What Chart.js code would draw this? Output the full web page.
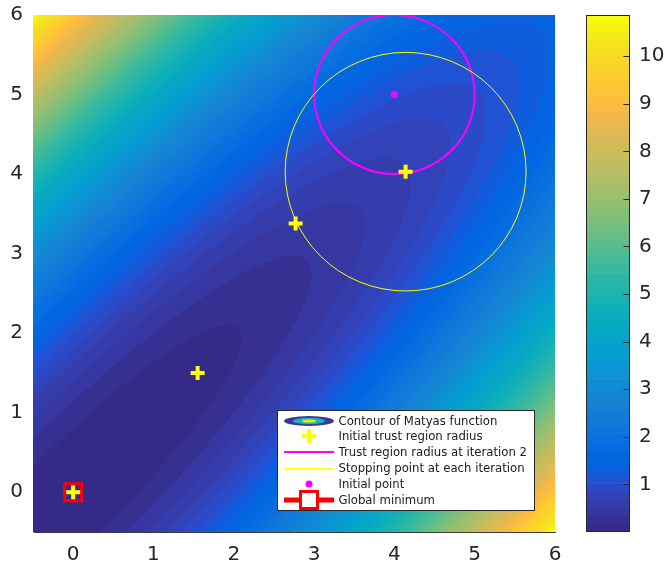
<!DOCTYPE html>
<html><head><meta charset="utf-8">
<script src="https://cdn.jsdelivr.net/npm/chart.js@4.4.0/dist/chart.umd.min.js"></script>
<style>
html,body{margin:0;padding:0;background:#fff;}
#wrap{position:relative;width:666px;height:567px;overflow:hidden;}
#main{position:absolute;left:0;top:0;}
#cbar{position:absolute;left:580px;top:0;}
</style></head><body>
<div id="wrap">
<canvas id="main" width="580" height="567"></canvas>
<canvas id="cbar" width="86" height="567"></canvas>
</div>
<script>
// ---------------- data ----------------
const xTicks = [0, 1, 2, 3, 4, 5, 6];
const yTicks = [0, 1, 2, 3, 4, 5, 6];
const colorbarTicks = [1, 2, 3, 4, 5, 6, 7, 8, 9, 10];
const xLimits = [-0.5, 6];
const yLimits = [-0.5, 6];
const colorLimits = [0, 10.865];
const contourLevelCount = 64;
// Matyas function f(x,y) = a*(x^2+y^2) - b*x*y
const matyasA = 0.26;
const matyasB = 0.48;
// stopping points (yellow plus)
const stopX = [0, 1.55, 2.77, 4.14];
const stopY = [0, 1.5, 3.38, 4.03];
// initial point
const initX = [4];
const initY = [5];
// global minimum
const minX = [0];
const minY = [0];
// trust-region circles
const circleCX = [4, 4.14];
const circleCY = [5, 4.03];
const circleR = [1, 1.5];
const circleColors = ['#ff00ff', '#ffff00'];
const circleWidths = [2, 1];
const legendLabels = [
  'Contour of Matyas function',
  'Initial trust region radius',
  'Trust region radius at iteration 2',
  'Stopping point at each iteration',
  'Initial point',
  'Global minimum'
];

// parula colormap (64)
const parula = [
[0.2081,0.1663,0.5292],[0.2116,0.1898,0.5777],[0.2123,0.2138,0.6270],[0.2081,0.2386,0.6771],
[0.1959,0.2645,0.7279],[0.1707,0.2919,0.7792],[0.1253,0.3242,0.8303],[0.0591,0.3598,0.8683],
[0.0117,0.3875,0.8820],[0.0060,0.4086,0.8828],[0.0165,0.4266,0.8786],[0.0329,0.4430,0.8720],
[0.0498,0.4586,0.8641],[0.0629,0.4737,0.8554],[0.0723,0.4887,0.8467],[0.0779,0.5040,0.8384],
[0.0793,0.5200,0.8312],[0.0749,0.5375,0.8263],[0.0641,0.5570,0.8240],[0.0488,0.5772,0.8228],
[0.0343,0.5966,0.8199],[0.0265,0.6137,0.8135],[0.0239,0.6287,0.8038],[0.0231,0.6418,0.7913],
[0.0228,0.6535,0.7768],[0.0267,0.6642,0.7607],[0.0384,0.6743,0.7436],[0.0590,0.6838,0.7254],
[0.0843,0.6928,0.7062],[0.1133,0.7015,0.6859],[0.1453,0.7098,0.6646],[0.1801,0.7177,0.6424],
[0.2178,0.7250,0.6193],[0.2586,0.7317,0.5954],[0.3022,0.7376,0.5712],[0.3482,0.7424,0.5473],
[0.3953,0.7459,0.5244],[0.4420,0.7481,0.5033],[0.4871,0.7491,0.4840],[0.5300,0.7491,0.4661],
[0.5709,0.7485,0.4494],[0.6099,0.7473,0.4337],[0.6473,0.7456,0.4188],[0.6834,0.7435,0.4044],
[0.7184,0.7411,0.3905],[0.7525,0.7384,0.3768],[0.7858,0.7356,0.3633],[0.8185,0.7327,0.3498],
[0.8507,0.7299,0.3360],[0.8824,0.7274,0.3217],[0.9139,0.7258,0.3063],[0.9450,0.7261,0.2886],
[0.9739,0.7314,0.2666],[0.9938,0.7455,0.2403],[0.9990,0.7653,0.2164],[0.9955,0.7861,0.1967],
[0.9880,0.8066,0.1794],[0.9789,0.8271,0.1633],[0.9697,0.8481,0.1475],[0.9626,0.8705,0.1309],
[0.9589,0.8949,0.1132],[0.9598,0.9218,0.0948],[0.9661,0.9514,0.0755],[0.9763,0.9831,0.0538]
].map(c => c.map(v => Math.round(v * 255)));
const rgb = c => `rgb(${c[0]},${c[1]},${c[2]})`;

const FONT = "'DejaVu Sans', sans-serif";
const TXT = '#262626';

function matyas(x, y) { return matyasA * (x * x + y * y) - matyasB * x * y; }

// ---------------- plugins ----------------
const contourPlugin = {
  id: 'contour',
  beforeDatasetsDraw(chart) {
    const { ctx, chartArea: a, scales: { x, y } } = chart;
    const L = Math.round(a.left), T = Math.round(a.top);
    const W = Math.round(a.right) - L, H = Math.round(a.bottom) - T;
    const off = document.createElement('canvas');
    off.width = W; off.height = H;
    const octx = off.getContext('2d');
    const img = octx.createImageData(W, H);
    const step = (colorLimits[1] - colorLimits[0]) / contourLevelCount;
    const xs = []; for (let i = 0; i < W; i++) xs.push(x.getValueForPixel(L + i + 0.5));
    for (let j = 0; j < H; j++) {
      const yv = y.getValueForPixel(T + j + 0.5);
      for (let i = 0; i < W; i++) {
        const z = matyas(xs[i], yv);
        let k = Math.floor((z - colorLimits[0]) / step);
        if (k < 0) k = 0; if (k > contourLevelCount - 1) k = contourLevelCount - 1;
        const c = parula[k];
        const p = (j * W + i) * 4;
        img.data[p] = c[0]; img.data[p + 1] = c[1]; img.data[p + 2] = c[2]; img.data[p + 3] = 255;
      }
    }
    octx.putImageData(img, 0, 0);
    ctx.save();
    ctx.drawImage(off, L, T);
    // trust-region circles through scales
    ctx.beginPath(); ctx.rect(a.left, a.top, a.right - a.left, a.bottom - a.top); ctx.clip();
    for (let i = 0; i < circleCX.length; i++) {
      const cx = x.getPixelForValue(circleCX[i]);
      const cy = y.getPixelForValue(circleCY[i]);
      const rx = Math.abs(x.getPixelForValue(circleCX[i] + circleR[i]) - cx);
      const ry = Math.abs(y.getPixelForValue(circleCY[i] + circleR[i]) - cy);
      ctx.beginPath();
      ctx.ellipse(cx, cy, rx, ry, 0, 0, Math.PI * 2);
      ctx.strokeStyle = circleColors[i];
      ctx.lineWidth = circleWidths[i];
      ctx.stroke();
    }
    ctx.restore();
  }
};

const legendPlugin = {
  id: 'mlegend',
  afterDraw(chart) {
    const { ctx, chartArea: a } = chart;
    const bw = 257, bh = 100;
    const bx = Math.round(a.right) - 21 - bw + 0.5, by = Math.round(a.bottom) - 22 - bh + 0.5;
    ctx.save();
    ctx.fillStyle = '#fff';
    ctx.fillRect(bx, by, bw, bh);
    ctx.strokeStyle = TXT; ctx.lineWidth = 1;
    ctx.strokeRect(bx, by, bw, bh);
    const ix = Math.round(bx + 31), tx = bx + 61;
    ctx.font = `11.7px ${FONT}`;
    ctx.textBaseline = 'middle';
    ctx.textAlign = 'left';
    legendLabels.forEach((lab, i) => {
      const ry = Math.round(by + 10 + i * 15.8);
      ctx.save();
      if (i === 0) {
        ctx.fillStyle = rgb(parula[2]);
        ctx.beginPath(); ctx.ellipse(ix, ry, 25, 5, 0, 0, Math.PI * 2); ctx.fill();
        ctx.fillStyle = rgb(parula[29]);
        ctx.beginPath(); ctx.ellipse(ix, ry, 16, 3.2, 0, 0, Math.PI * 2); ctx.fill();
        ctx.fillStyle = rgb(parula[60]);
        ctx.beginPath(); ctx.ellipse(ix, ry, 7, 1.6, 0, 0, Math.PI * 2); ctx.fill();
      } else if (i === 1) {
        ctx.strokeStyle = '#ffff00'; ctx.lineWidth = 4;
        ctx.beginPath(); ctx.moveTo(ix - 7, ry); ctx.lineTo(ix + 7, ry);
        ctx.moveTo(ix, ry - 7); ctx.lineTo(ix, ry + 7); ctx.stroke();
      } else if (i === 2) {
        ctx.strokeStyle = circleColors[0]; ctx.lineWidth = 2;
        ctx.beginPath(); ctx.moveTo(ix - 25, ry); ctx.lineTo(ix + 25, ry); ctx.stroke();
      } else if (i === 3) {
        ctx.strokeStyle = circleColors[1]; ctx.lineWidth = 1;
        ctx.beginPath(); ctx.moveTo(ix - 25, ry + 0.5); ctx.lineTo(ix + 25, ry + 0.5); ctx.stroke();
      } else if (i === 4) {
        ctx.fillStyle = '#ff00ff';
        ctx.beginPath(); ctx.arc(ix, ry, 3.5, 0, Math.PI * 2); ctx.fill();
      } else {
        ctx.strokeStyle = '#ff0000'; ctx.lineWidth = 5;
        ctx.beginPath(); ctx.moveTo(ix - 25, ry); ctx.lineTo(ix + 25, ry); ctx.stroke();
        ctx.fillStyle = '#fff'; ctx.lineWidth = 3;
        ctx.beginPath(); ctx.rect(ix - 8.5, ry - 8.5, 17, 17); ctx.fill(); ctx.stroke();
      }
      ctx.restore();
      ctx.fillStyle = '#1a1a1a';
      ctx.fillText(lab, tx, ry + 0.5);
    });
    ctx.restore();
  }
};

const pts = (xs, ys) => xs.map((v, i) => ({ x: v, y: ys[i] }));

// ---------------- main chart ----------------
new Chart(document.getElementById('main'), {
  type: 'scatter',
  data: {
    datasets: [
      { label: 'Initial point', data: pts(initX, initY), pointStyle: 'circle', pointRadius: 3.5,
        pointBackgroundColor: '#ff00ff', pointBorderWidth: 0, pointBorderColor: '#ff00ff' },
      { label: 'Stopping points', data: pts(stopX, stopY), pointStyle: 'cross', pointRadius: 7,
        pointBorderWidth: 4, pointBorderColor: '#ffff00', pointBackgroundColor: '#ffff00' },
      { label: 'Global minimum', data: pts(minX, minY), pointStyle: 'rect', pointRadius: 12,
        pointBorderWidth: 3, pointBorderColor: '#ff0000', pointBackgroundColor: 'rgba(0,0,0,0)' }
    ]
  },
  options: {
    responsive: false, animation: false,
    layout: { padding: { top: 15, right: 25, left: 0, bottom: 0 } },
    plugins: { legend: { display: false }, tooltip: { enabled: false } },
    scales: {
      x: {
        type: 'linear', min: xLimits[0], max: xLimits[1],
        grid: { display: false, drawTicks: false },
        border: { display: true, color: '#3a3a3a', width: 1 },
        afterFit(s) { s.height = 35; s.paddingLeft = 0; s.paddingRight = 0; },
        afterBuildTicks(s) { s.ticks = xTicks.map(v => ({ value: v })); },
        ticks: { color: TXT, font: { family: FONT, size: 20 }, padding: 11, maxRotation: 0, autoSkip: false }
      },
      y: {
        type: 'linear', min: yLimits[0], max: yLimits[1],
        grid: { display: false, drawTicks: false },
        border: { display: true, color: '#d0d0d0', width: 1 },
        afterFit(s) { s.width = 33; s.paddingTop = 0; s.paddingBottom = 0; },
        afterBuildTicks(s) { s.ticks = yTicks.map(v => ({ value: v })); },
        ticks: { color: TXT, font: { family: FONT, size: 20 }, padding: 10, autoSkip: false }
      }
    }
  },
  plugins: [contourPlugin, legendPlugin]
});

// ---------------- colorbar ----------------
const cbStep = (colorLimits[1] - colorLimits[0]) / contourLevelCount;
const cbDatasets = parula.map((c, i) => ({
  data: [[colorLimits[0] + i * cbStep, colorLimits[0] + (i + 1) * cbStep]],
  backgroundColor: rgb(c), borderWidth: 0, barPercentage: 1, categoryPercentage: 1
}));
const cbFrame = {
  id: 'cbframe',
  afterDatasetsDraw(chart) {
    const { ctx, chartArea: a, scales: { y } } = chart;
    ctx.save();
    ctx.strokeStyle = TXT; ctx.lineWidth = 1;
    const l = Math.round(a.left) + 0.5, r = Math.round(a.right) - 0.5;
    colorbarTicks.forEach(v => {
      const py = Math.round(y.getPixelForValue(v)) + 0.5;
      ctx.beginPath(); ctx.moveTo(r - 6, py); ctx.lineTo(r, py); ctx.stroke();
    });
    ctx.strokeRect(l, Math.round(a.top) + 0.5, r - l, Math.round(a.bottom) - Math.round(a.top) - 1);
    ctx.restore();
  }
};
new Chart(document.getElementById('cbar'), {
  type: 'bar',
  data: { labels: [''], datasets: cbDatasets },
  options: {
    responsive: false, animation: false,
    layout: { padding: { top: 15, left: 6, right: 0, bottom: 35 } },
    plugins: { legend: { display: false }, tooltip: { enabled: false } },
    scales: {
      x: { display: false, stacked: true },
      y: {
        position: 'right', min: colorLimits[0], max: colorLimits[1], stacked: false,
        grid: { display: false, drawTicks: false },
        border: { display: false },
        afterFit(s) { s.width = 36; s.paddingTop = 0; s.paddingBottom = 0; },
        afterBuildTicks(s) { s.ticks = colorbarTicks.map(v => ({ value: v })); },
        ticks: { color: TXT, font: { family: FONT, size: 20 }, padding: 9, autoSkip: false }
      }
    }
  },
  plugins: [cbFrame]
});
</script>
</body></html>
